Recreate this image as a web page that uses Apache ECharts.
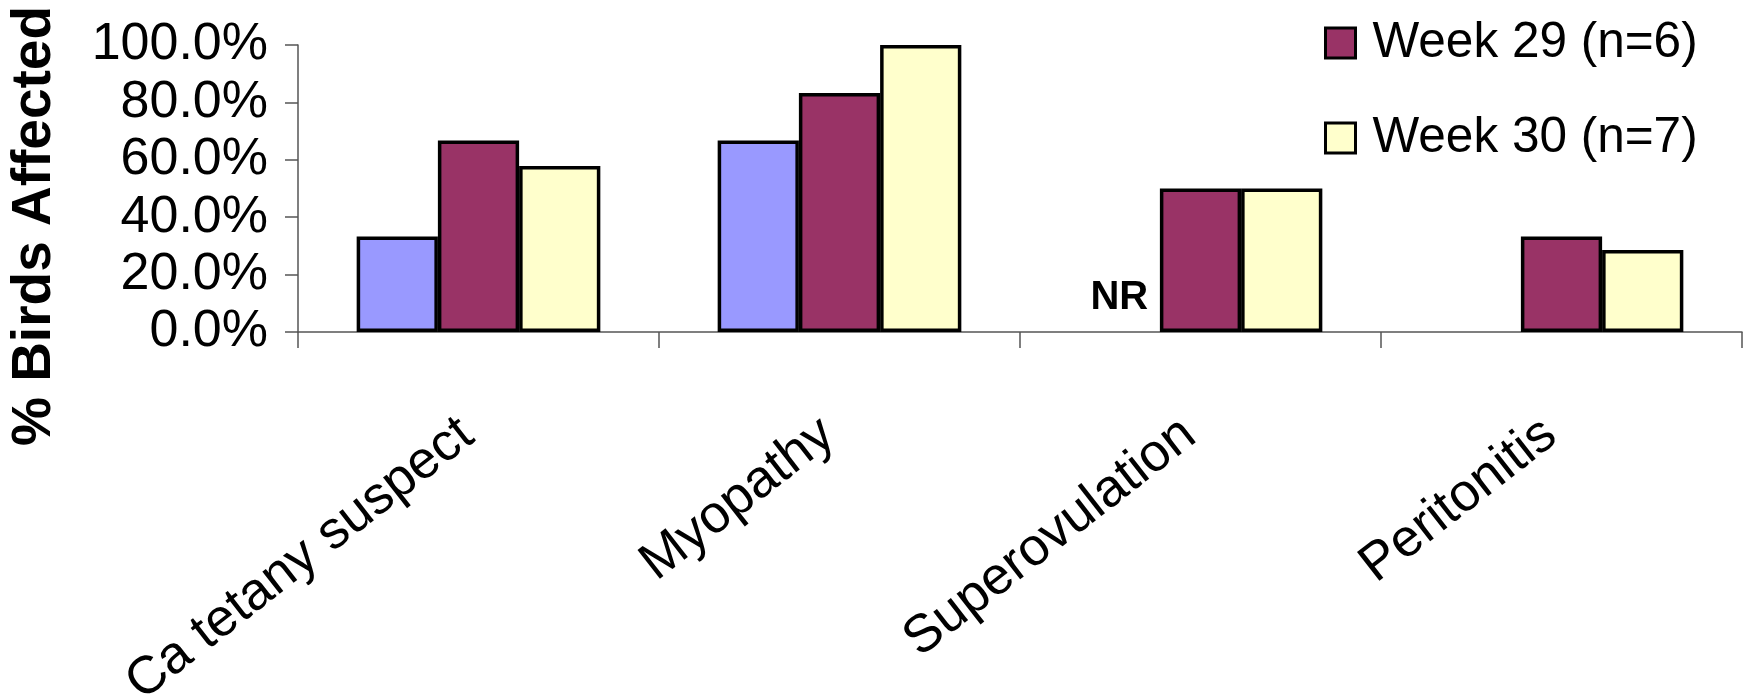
<!DOCTYPE html>
<html><head><meta charset="utf-8">
<script src="https://cdn.jsdelivr.net/npm/echarts@6/dist/echarts.min.js"></script>
<style>html,body{margin:0;padding:0;background:#fff}#c{width:1753px;height:696px}</style>
</head><body><div id="c"></div>
<script>
const categories = ['Ca tetany suspect', 'Myopathy', 'Superovulation', 'Peritonitis'];
const seriesNames = ['Earlier', 'Week 29 (n=6)', 'Week 30 (n=7)'];
const earlierValues = [0.333, 0.667, 0, null];
const week29Values = [0.667, 0.833, 0.5, 0.333];
const week30Values = [0.578, 1.0, 0.5, 0.286];
const yTicks = [0, 0.2, 0.4, 0.6, 0.8, 1.0];
const nrLabel = 'NR';
const yTitle = '% Birds Affected';

const font = 'Liberation Sans, Arial, sans-serif';
const chart = echarts.init(document.getElementById('c'));
const border = {borderColor: '#000', borderWidth: 3.5};

const earlierData = earlierValues.map((v, i) => {
  if (v === 0) {
    return {value: 0, itemStyle: {borderWidth: 0},
      label: {show: true, formatter: nrLabel, position: 'top', distance: 14,
        fontFamily: font, fontWeight: 'bold', fontSize: 40, color: '#000'}};
  }
  return v;
});

chart.setOption({
  animation: false,
  backgroundColor: '#fff',
  grid: {left: 298, right: 11, top: 45, bottom: 364, containLabel: false, outerBoundsMode: 'none'},
  legend: {
    data: [seriesNames[1], seriesNames[2]],
    orient: 'vertical', left: 1319, top: 13,
    itemWidth: 30, itemHeight: 30, itemGap: 45,
    icon: 'rect',
    itemStyle: {borderColor: '#000', borderWidth: 3},
    textStyle: {fontFamily: font, fontSize: 49.5, color: '#000', padding: [0, 0, 0, 12]}
  },
  xAxis: {
    type: 'category', data: categories,
    axisLine: {lineStyle: {color: '#555', width: 1.5}},
    axisTick: {show: true, length: 16, lineStyle: {color: '#555', width: 1.5}},
    axisLabel: {rotate: 38, margin: 88, interval: 0, fontFamily: font, fontSize: 53, color: '#000',
      padding: [0, 14, 0, 0]}
  },
  yAxis: {
    type: 'value', min: 0, max: 1, interval: 0.2,
    axisLine: {show: true, lineStyle: {color: '#555', width: 1.5}},
    axisTick: {show: true, length: 13, lineStyle: {color: '#555', width: 1.5}},
    splitLine: {show: false},
    axisLabel: {margin: 30, fontFamily: font, fontSize: 52, color: '#000',
      formatter: v => (v * 100).toFixed(1) + '%'}
  },
  graphic: [{
    type: 'text',
    rotation: Math.PI / 2,
    x: 35, y: 226,
    style: {text: yTitle, fontFamily: font, fontWeight: 'bold', fontSize: 55,
      fill: '#000', textAlign: 'center', textVerticalAlign: 'middle'}
  }],
  series: [
    {name: seriesNames[0], type: 'bar', data: earlierData, barGap: '0%', barCategoryGap: '32.5%',
      itemStyle: Object.assign({color: '#9999FF'}, border)},
    {name: seriesNames[1], type: 'bar', data: week29Values, barGap: '0%', barCategoryGap: '32.5%',
      itemStyle: Object.assign({color: '#993366'}, border)},
    {name: seriesNames[2], type: 'bar', data: week30Values, barGap: '0%', barCategoryGap: '32.5%',
      itemStyle: Object.assign({color: '#FFFFCC'}, border)}
  ]
});
</script></body></html>
